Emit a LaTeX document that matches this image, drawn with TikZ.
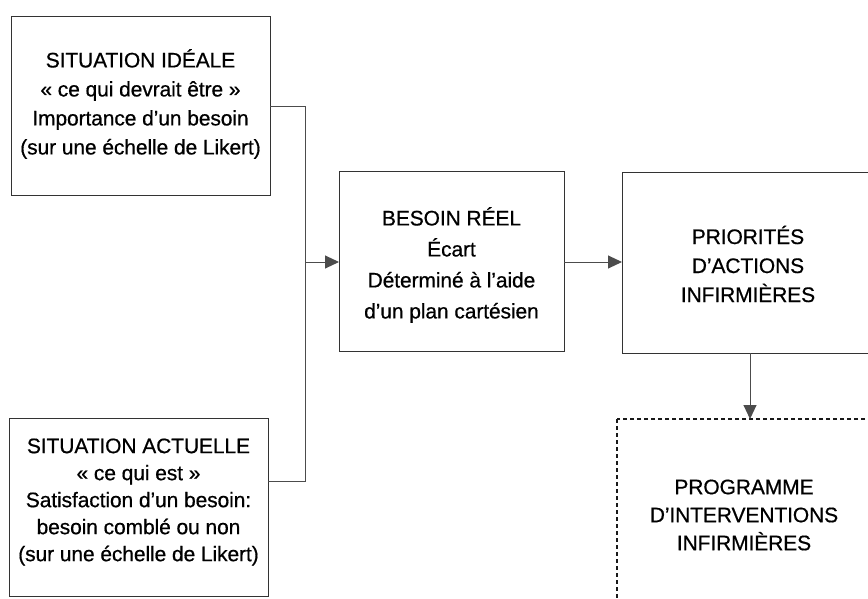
\documentclass[tikz,border=0pt]{standalone}
\usepackage{fontspec}
\setmainfont{Liberation Sans}[LetterSpace=-0.5,FakeBold=0.6]
\usetikzlibrary{arrows.meta}
\begin{document}
\begin{tikzpicture}[x=1pt,y=-1pt,
  boxstyle/.style={draw=black!80, line width=1pt},
  txt/.style={align=center, font=\fontsize{21}{29}\selectfont, text=black, inner sep=0pt},
  conn/.style={draw=black!70, line width=1pt},
  arr/.style={conn, -{Triangle[length=14pt,width=13pt]}}]
\path[use as bounding box] (0,0) rectangle (868,599);
\clip (0,0) rectangle (868,599);
\fill[white] (0,0) rectangle (868,599);
% boxes
\draw[boxstyle] (11,17) rectangle (270,196);
\node[txt] (ideal) at (140.5,104) {SITUATION IDÉALE\\« ce qui devrait être »\\Importance d'un besoin\\(sur une échelle de Likert)};
\draw[boxstyle] (9,418) rectangle (268,596);
\node[txt, font=\fontsize{21}{27}\selectfont] (actu) at (138.5,502) {SITUATION ACTUELLE\\« ce qui est »\\Satisfaction d'un besoin:\\besoin comblé ou non\\(sur une échelle de Likert)};
\draw[boxstyle] (339,172) rectangle (564,351);
\node[txt, font=\fontsize{21}{31}\selectfont] (reel) at (451.5,265) {BESOIN RÉEL\\Écart\\Déterminé à l'aide\\d'un plan cartésien};
\draw[boxstyle] (622,173) rectangle (874,353);
\node[txt] (prio) at (748,264) {PRIORITÉS\\D'ACTIONS\\INFIRMIÈRES};
\draw[boxstyle, draw=black!90, line width=1.4pt, dash pattern=on 4pt off 3pt] (617,419) rectangle (871,604);
\node[txt, font=\fontsize{21}{28}\selectfont] (prog) at (744,515) {PROGRAMME\\D'INTERVENTIONS\\INFIRMIÈRES};
% named anchor coordinates
\coordinate (b1r) at (270,107);
\coordinate (b2r) at (268,481);
\coordinate (j1) at (305,107);
\coordinate (j2) at (305,481);
\coordinate (jm) at (305,262);
\coordinate (b3l) at (339,262);
\coordinate (b3r) at (564,262);
\coordinate (b4l) at (622,262);
\coordinate (b4b) at (750,353);
\coordinate (b5t) at (750,419);
\draw[conn] (b1r) -- (j1) -- (j2) -- (b2r);
\draw[arr] (jm) -- (b3l);
\draw[arr] (b3r) -- (b4l);
\draw[arr] (b4b) -- (b5t);
\end{tikzpicture}
\end{document}
